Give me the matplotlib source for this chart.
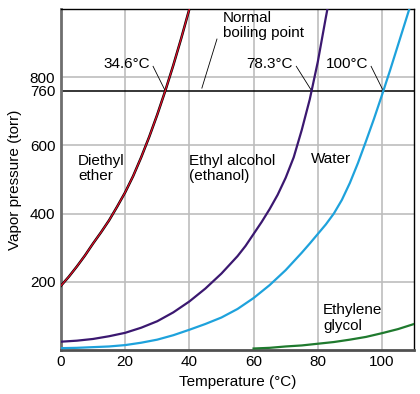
#!/usr/bin/env python3
"""Vapor pressure vs temperature for four liquids, with normal boiling points."""

import matplotlib
matplotlib.use("Agg")
import matplotlib.pyplot as plt

plt.rcParams['font.family'] = ['Liberation Sans', 'DejaVu Sans']

# Curves (temperature in °C, pressure in torr)
ETHER_T = [0, 2.5, 5, 7.5, 10, 12.5, 15, 17.5, 20, 22.5, 25, 27.5, 30,
           32.5, 35, 37.5, 40]
ETHER_P = [188, 215, 245, 277, 312, 345, 380, 420, 462, 510, 565, 625, 690,
           760, 835, 915, 1000]

ETHANOL_T = [0, 5, 10, 15, 20, 25, 30, 35, 40, 45, 50, 55, 57.5, 60, 62.5,
             65, 67.5, 70, 72.5, 75, 77.5, 80, 82.5, 83]
ETHANOL_P = [24, 27, 32, 40, 50, 65, 84, 110, 142, 180, 224, 275, 305, 340,
             375, 413, 455, 505, 565, 645, 735, 845, 975, 1000]

WATER_T = [0, 5, 10, 15, 20, 25, 30, 35, 40, 45, 50, 55, 60, 65, 70, 75,
           77.5, 80, 82.5, 85, 87.5, 90, 92.5, 95, 97.5, 100, 102.5, 105,
           107.5, 108.5]
WATER_P = [5, 6, 8, 10, 14, 21, 30, 43, 59, 76, 95, 120, 152, 190, 234, 285,
           312, 340, 368, 400, 440, 490, 548, 612, 678, 748, 820, 895, 970,
           1000]

GLYCOL_T = [60, 65, 70, 75, 80, 85, 90, 95, 100, 105, 110]
GLYCOL_P = [4, 6, 10, 13, 18, 23, 30, 38, 49, 61, 76]

NORMAL_BP = 760
BOILING_LABELS = ['34.6°C', '78.3°C', '100°C']
BOILING_CROSS = [32.5, 78.1, 100.4]

X_TICKS = [0, 20, 40, 60, 80, 100]
Y_TICKS = [200, 400, 600, 760, 800]

GRID_COLOR = '#bdbdbd'
FS = 11

fig = plt.figure(figsize=(4.2, 3.94), dpi=100)
ax = fig.add_axes([0.145, 0.112, 0.841, 0.865])

ax.set_xlim(0, 110)
ax.set_ylim(0, 1000)

# grid
for x in [20, 40, 60, 80, 100]:
    ax.axvline(x, color=GRID_COLOR, lw=1.2, zorder=0)
for y in [200, 400, 600, 800]:
    ax.axhline(y, color=GRID_COLOR, lw=1.2, zorder=0)

# normal boiling point line
ax.axhline(NORMAL_BP, color='black', lw=1.1, zorder=1)

# curves
ax.plot(ETHER_T, ETHER_P, color='black', lw=1.8, zorder=3)
ax.plot(ETHER_T, ETHER_P, color='#e0102a', lw=0.9, zorder=4)
ax.plot(ETHANOL_T, ETHANOL_P, color='#3b1870', lw=1.6, zorder=3)
ax.plot(WATER_T, WATER_P, color='#1ea2dc', lw=1.6, zorder=3)
ax.plot(GLYCOL_T, GLYCOL_P, color='#1f7a2e', lw=1.6, zorder=3)

# boiling point labels with leader lines
label_right = [27.7, 72.3, 95.6]
for lab, xc, xr in zip(BOILING_LABELS, BOILING_CROSS, label_right):
    ax.text(xr, 838, lab, ha='right', va='center', fontsize=FS)
    ax.plot([xr + 1.0, xc], [832, NORMAL_BP], color='black', lw=0.6, zorder=2)

ax.text(50.5, 995, 'Normal\nboiling point', ha='left', va='top',
        fontsize=FS, linespacing=1.15)
ax.plot([43.9, 48.6], [768, 912], color='black', lw=0.6, zorder=2)

# curve names
ax.text(5.3, 532, 'Diethyl\nether', ha='left', va='center', fontsize=FS,
        linespacing=1.15)
ax.text(39.9, 532, 'Ethyl alcohol\n(ethanol)', ha='left', va='center',
        fontsize=FS, linespacing=1.15)
ax.text(77.9, 559, 'Water', ha='left', va='center', fontsize=FS)
ax.text(81.6, 94, 'Ethylene\nglycol', ha='left', va='center', fontsize=FS,
        linespacing=1.15)

# axes styling
ax.set_xticks(X_TICKS)
ax.set_yticks(Y_TICKS)
ax.tick_params(length=0, labelsize=FS, pad=4)
ax.set_xlabel('Temperature (°C)', fontsize=FS, labelpad=4)
ax.set_ylabel('Vapor pressure (torr)', fontsize=FS, labelpad=6)

ax.spines['left'].set_color('#6e6e6e')
ax.spines['left'].set_linewidth(2)
ax.spines['bottom'].set_color('#505050')
ax.spines['bottom'].set_linewidth(2)
ax.spines['top'].set_linewidth(1)
ax.spines['right'].set_linewidth(1)

fig.savefig('out.png', dpi=100, facecolor='white')
